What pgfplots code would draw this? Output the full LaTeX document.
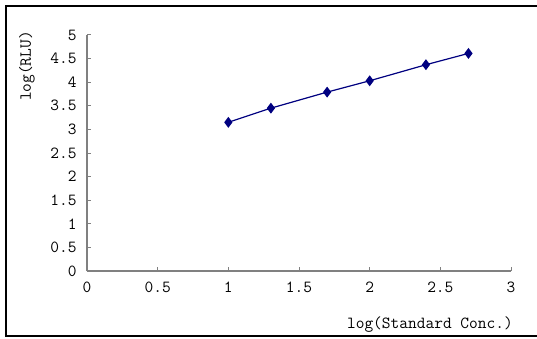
\documentclass[border=0pt]{standalone}
\usepackage{pgfplots}
\pgfplotsset{compat=1.18}
\definecolor{navyline}{RGB}{0,0,128}
\definecolor{axgray}{RGB}{128,128,128}
\begin{document}
\begin{tikzpicture}[x=1bp,y=1bp]
\useasboundingbox (0,0) rectangle (537,338);
\draw[black, line width=2bp] (537,332) -- (6,332) -- (6,2) -- (537,2);
\begin{axis}[
  at={(87bp,67bp)}, anchor=origin,
  scale only axis, width=424bp, height=236bp,
  xmin=0, xmax=3, ymin=0, ymax=5,
  axis x line*=bottom, axis y line*=left,
  axis line style={axgray, line width=1.2bp, -},
  xtick={0,0.5,...,3}, ytick={0,0.5,...,5},
  tick style={axgray, line width=1bp},
  major tick length=4bp,
  tick align=inside,
  /pgf/number format/assume math mode=true,
  /pgf/number format/.cd, fixed, precision=1,
  /pgfplots/.cd,
  tick label style={font=\ttfamily\fontsize{17}{19}\selectfont, black},
  xticklabel style={yshift=-7bp},
  yticklabel style={xshift=-7bp},
  clip=false,
]
\addplot[navyline, line width=1.2bp, mark=diamond*, mark size=4.5bp, mark options={fill=navyline, draw=navyline}]
  coordinates {(1.0,3.15) (1.301,3.45) (1.699,3.79) (2.0,4.03) (2.398,4.37) (2.699,4.61)};
\end{axis}
\node[anchor=base east, inner sep=0pt, font=\ttfamily\fontsize{17}{19}\selectfont] at (513,10) {log(Standard Conc.)};
\node[rotate=90, font=\ttfamily\fontsize{17}{19}\selectfont] at (27,272) {log(RLU)};
\end{tikzpicture}
\end{document}
